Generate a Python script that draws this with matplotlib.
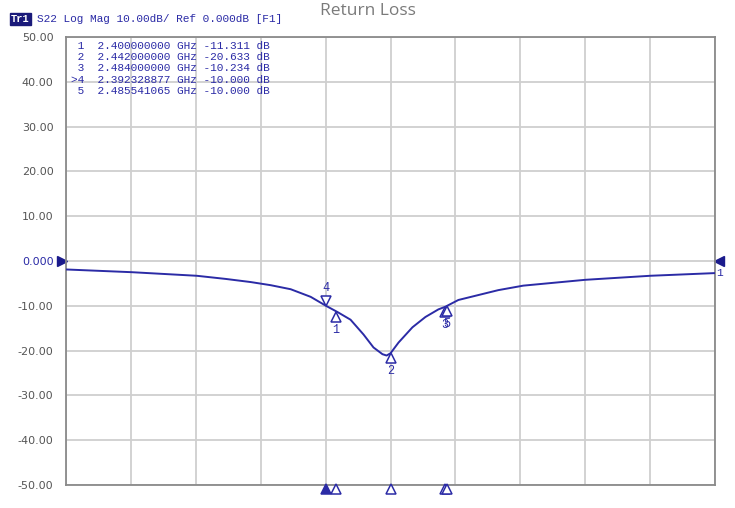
import matplotlib
matplotlib.use('Agg')
import matplotlib.pyplot as plt
import matplotlib.transforms as mtransforms
import numpy as np

# trace (GHz, dB)
freq_ghz = [2.1928, 2.2428, 2.2928, 2.3150, 2.3343, 2.3497, 2.3651, 2.3805, 2.3923,
            2.4012, 2.4112, 2.4212, 2.4289, 2.4358, 2.4390, 2.4420, 2.4482, 2.4589,
            2.4689, 2.4789, 2.4843, 2.4943, 2.5097, 2.5251, 2.5443, 2.5920, 2.6420,
            2.6920]
s22_db = [-1.9, -2.5, -3.3, -4.0, -4.7, -5.4, -6.3, -8.0, -10.0,
          -11.4, -13.1, -16.4, -19.3, -20.8, -21.1, -20.6, -18.2, -14.8,
          -12.5, -10.8, -10.2, -8.7, -7.6, -6.5, -5.5, -4.2, -3.3,
          -2.7]

# marker table
mk_ids = ['1', '2', '3', '4', '5']
mk_freq = [2.400000000, 2.442000000, 2.484000000, 2.392328877, 2.485541065]
mk_db = [-11.311, -20.633, -10.234, -10.000, -10.000]
active_mk = '4'

f_start, f_stop = 2.192, 2.692
y_ticks = [50, 40, 30, 20, 10, 0, -10, -20, -30, -40, -50]
y_labels = ['50.00', '40.00', '30.00', '20.00', '10.00', '0.000',
            '-10.00', '-20.00', '-30.00', '-40.00', '-50.00']

trace_col = '#2b2ba6'
mono = 'Liberation Mono'

fig = plt.figure(figsize=(7.35, 5.08), dpi=100)
ax = fig.add_axes([66/735, 1 - 485/508, 649/735, 448/508])

ax.plot(freq_ghz, s22_db, color=trace_col, lw=1.4, zorder=3)

ax.set_xlim(f_start, f_stop)
ax.set_ylim(-50, 50)
ax.set_xticks(np.linspace(f_start, f_stop, 11))
ax.set_xticklabels([])
ax.set_yticks(y_ticks)
ax.set_yticklabels(y_labels, fontsize=8, color='#555555')
for lab in ax.get_yticklabels():
    if lab.get_text() == '0.000':
        lab.set_color(trace_col)
ax.tick_params(length=0, pad=9)
ax.grid(True, color='#cfcfcf', lw=1.3)
for sp in ax.spines.values():
    sp.set_color('#8a8a8a')
    sp.set_linewidth(1.3)

# markers on the trace
for mid, f, v in zip(mk_ids, mk_freq, mk_db):
    if mid == active_mk:
        tr = mtransforms.offset_copy(ax.transData, fig=fig, x=0, y=5, units='dots')
        ax.plot(f, v, marker='v', ms=7, mfc='white', mec=trace_col, mew=1.1,
                transform=tr, zorder=4)
        ax.annotate(mid, (f, v), xytext=(0, 12), textcoords='offset pixels',
                    ha='center', va='bottom', fontsize=8.5, color=trace_col, family=mono)
    else:
        tr = mtransforms.offset_copy(ax.transData, fig=fig, x=0, y=-5, units='dots')
        ax.plot(f, v, marker='^', ms=7, mfc='white', mec=trace_col, mew=1.1,
                transform=tr, zorder=4)
        ax.annotate(mid, (f, v), xytext=(0, -12), textcoords='offset pixels',
                    ha='center', va='top', fontsize=8.5, color=trace_col, family=mono)

# marker position flags below the x axis
flag_tr = mtransforms.offset_copy(ax.get_xaxis_transform(), fig=fig, x=0, y=-4, units='dots')
for mid, f in zip(mk_ids, mk_freq):
    filled = mid == active_mk
    ax.plot(f, 0, marker='^', ms=7, mfc=trace_col if filled else 'white',
            mec=trace_col, mew=1.1, transform=flag_tr, clip_on=False, zorder=5)

# reference level arrows
ref_tr = mtransforms.blended_transform_factory(ax.transAxes, ax.transData)
left_tr = mtransforms.offset_copy(ref_tr, fig=fig, x=-4, y=0, units='dots')
right_tr = mtransforms.offset_copy(ref_tr, fig=fig, x=4, y=0, units='dots')
ax.plot(0, 0, marker='>', ms=7, color='#1a1a8c', transform=left_tr, clip_on=False)
ax.plot(1, 0, marker='<', ms=7, color='#1a1a8c', transform=right_tr, clip_on=False)
ax.text(1.0, s22_db[-1], '1', transform=mtransforms.offset_copy(ref_tr, fig=fig, x=1, y=0, units='dots'),
        ha='left', va='center', fontsize=8, color=trace_col, family=mono)

# marker readout table
rows = []
for mid, f, v in zip(mk_ids, mk_freq, mk_db):
    prefix = '>' if mid == active_mk else ' '
    rows.append('%s%s  %.9f GHz %.3f dB' % (prefix, mid, f, v))
fig.text(71/735, 1 - 41/508, '\n'.join(rows), ha='left', va='top', fontsize=8,
         color=trace_col, family=mono, linespacing=1.15)

# header line
fig.text(11/735, 1 - 19/508, 'Tr1', ha='left', va='center', fontsize=7.5,
         color='white', family=mono, fontweight='bold',
         bbox=dict(boxstyle='square,pad=0.1', fc='#1a1a7a', ec='#1a1a7a'))
fig.text(37/735, 1 - 19/508, 'S22 Log Mag 10.00dB/ Ref 0.000dB [F1]',
         ha='left', va='center', fontsize=8, color=trace_col, family=mono)

fig.text(368/735, 1 - 11/508, 'Return Loss', ha='center', va='center',
         fontsize=12.5, color='#7a7a7a', family='Open Sans')

fig.savefig('out.png', dpi=100)
